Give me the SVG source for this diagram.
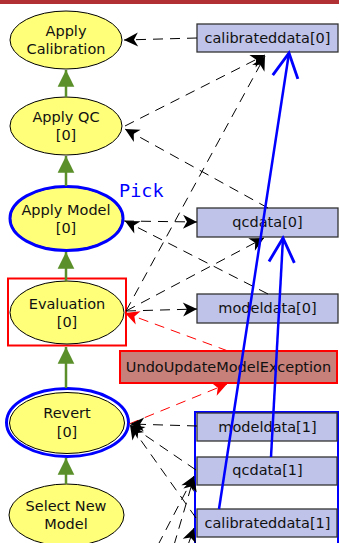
<svg xmlns="http://www.w3.org/2000/svg" width="339" height="543" viewBox="0 0 339 543">
<style>
.node{fill:#ffff7a;stroke:#000;stroke-width:1}
.lbl{font-family:"DejaVu Sans",sans-serif;font-size:14.5px;fill:#111;text-anchor:middle}
.box{fill:#bfc3ea;stroke:#333;stroke-width:1.3}
.green{stroke:#5a8f29;stroke-width:2.5;fill:none}
.dash{stroke:#000;stroke-width:1;fill:none;stroke-dasharray:10,7}
.rdash{stroke:#ff0000;stroke-width:1;fill:none;stroke-dasharray:10,7}
.blue{stroke:#0000ff;stroke-width:2.5;fill:none}
</style>
<defs>
<marker id="ga" markerUnits="userSpaceOnUse" markerWidth="20" markerHeight="20" refX="0" refY="0" orient="auto" viewBox="-16 -9 18 18" overflow="visible"><path d="M0,0 L-15,-7.5 L-15,7.5 z" fill="#5a8f29"/></marker>
<marker id="ba" markerUnits="userSpaceOnUse" markerWidth="18" markerHeight="18" refX="0" refY="0" orient="auto" viewBox="-16 -8 18 16" overflow="visible"><path d="M0,0 L-14,-7 L-10,0 L-14,7 z" fill="#000"/></marker>
<marker id="ra" markerUnits="userSpaceOnUse" markerWidth="18" markerHeight="18" refX="0" refY="0" orient="auto" viewBox="-16 -8 18 16" overflow="visible"><path d="M0,0 L-14,-7 L-10,0 L-14,7 z" fill="#ff0000"/></marker>
<marker id="bl" markerUnits="userSpaceOnUse" markerWidth="30" markerHeight="30" refX="0" refY="0" orient="auto" viewBox="-24 -13 26 26" overflow="visible"><path d="M-21,-11 L0,0 L-21,11" fill="none" stroke="#0000ff" stroke-width="2.5"/></marker>
</defs>
<rect x="0" y="0" width="339" height="4" fill="#b03034"/>
<g id="node-apply-calibration"><ellipse class="node" cx="66" cy="40" rx="56" ry="29"/><text class="lbl" x="66" y="36">Apply</text><text class="lbl" x="66" y="54">Calibration</text></g>
<g id="node-apply-qc"><ellipse class="node" cx="66" cy="126" rx="56" ry="29"/><text class="lbl" x="66" y="122">Apply QC</text><text class="lbl" x="66" y="140">[0]</text></g>
<g id="node-apply-model"><ellipse class="node" cx="66.5" cy="218.5" rx="56" ry="31.5" stroke="#000"/><ellipse cx="66.5" cy="218.5" rx="56.5" ry="32" fill="none" stroke="#0000ff" stroke-width="3"/><text class="lbl" x="66" y="215">Apply Model</text><text class="lbl" x="66" y="233">[0]</text></g>
<text x="119" y="197" font-family="DejaVu Sans Mono, monospace" font-size="18.5" fill="#0000ff">Pick</text>
<g id="node-evaluation"><rect x="8" y="278.5" width="118" height="67" fill="none" stroke="#ff0000" stroke-width="2"/><ellipse class="node" cx="67" cy="312.5" rx="57" ry="31.5"/><text class="lbl" x="67" y="309">Evaluation</text><text class="lbl" x="67" y="327">[0]</text></g>
<g id="node-revert"><ellipse cx="67.5" cy="422.5" rx="61" ry="34" fill="none" stroke="#0000ff" stroke-width="3"/><ellipse class="node" cx="67" cy="423" rx="57.5" ry="30.5"/><text class="lbl" x="67" y="418">Revert</text><text class="lbl" x="67" y="437">[0]</text></g>
<g id="node-select-new-model"><ellipse class="node" cx="66.5" cy="515" rx="57.5" ry="31"/><text class="lbl" x="66" y="511">Select New</text><text class="lbl" x="66" y="529">Model</text></g>
<g id="node-calibrateddata0"><rect class="box" x="197" y="24" width="141" height="28"/><text class="lbl" x="267.5" y="43">calibrateddata[0]</text></g>
<g id="node-qcdata0"><rect class="box" x="197" y="208" width="141" height="29"/><text class="lbl" x="267.5" y="227">qcdata[0]</text></g>
<g id="node-modeldata0"><rect class="box" x="197" y="294" width="141" height="29"/><text class="lbl" x="267.5" y="313">modeldata[0]</text></g>
<g id="node-exception"><rect x="120" y="351" width="217" height="32" fill="#c8807b" stroke="#ff0000" stroke-width="2"/><text class="lbl" x="228.5" y="372">UndoUpdateModelException</text></g>
<g id="node-group1"><rect x="195" y="412" width="143" height="135" fill="none" stroke="#0000ff" stroke-width="2"/>
<g id="node-modeldata1"><rect class="box" x="197" y="413" width="140" height="28"/><text class="lbl" x="267.5" y="432">modeldata[1]</text></g>
<g id="node-qcdata1"><rect class="box" x="197" y="457" width="140" height="28"/><text class="lbl" x="267.5" y="475">qcdata[1]</text></g>
<g id="node-calibrateddata1"><rect class="box" x="197" y="509" width="140" height="28"/><text class="lbl" x="267.5" y="528">calibrateddata[1]</text></g>
</g>
<g id="connectors">
<path class="green" d="M66,97 L66,70" marker-end="url(#ga)"/>
<path class="green" d="M66,186 L66,156" marker-end="url(#ga)"/>
<path class="green" d="M66,281 L66,252" marker-end="url(#ga)"/>
<path class="green" d="M66,388 L66,347" marker-end="url(#ga)"/>
<path class="green" d="M66,484 L66,458" marker-end="url(#ga)"/>
<path class="dash" d="M197,38 L124,40" marker-end="url(#ba)"/>
<path class="dash" d="M125,126 L265,55" marker-end="url(#ba)"/>
<path class="dash" d="M126,311 L265,56" marker-end="url(#ba)"/>
<path class="dash" d="M268,208 L125,129" marker-end="url(#ba)"/>
<path class="dash" d="M124,221 L197,222" marker-end="url(#ba)"/>
<path class="dash" d="M268,294 L125,221" marker-end="url(#ba)"/>
<path class="dash" d="M126,311 L264,238" marker-end="url(#ba)"/>
<path class="dash" d="M126,311 L197,309" marker-end="url(#ba)"/>
<path class="rdash" d="M228,351 L125,313" marker-end="url(#ra)"/>
<path class="rdash" d="M129,424 L227,384" marker-end="url(#ra)"/>
<path class="dash" d="M197,426 L130,424" marker-end="url(#ba)"/>
<path class="dash" d="M196,470 L130,425" marker-end="url(#ba)"/>
<path class="dash" d="M196,518 L130,425" marker-end="url(#ba)"/>
<path class="dash" d="M158,545 L194,476" marker-end="url(#ba)"/>
<path class="dash" d="M174,545 L194,477" marker-end="url(#ba)"/>
<path class="dash" d="M188,545 L194,528" marker-end="url(#ba)"/>
<path class="blue" d="M219,509 L289,53" marker-end="url(#bl)"/>
<path class="blue" d="M271,457 L283,238" marker-end="url(#bl)"/>
</g>
</svg>
